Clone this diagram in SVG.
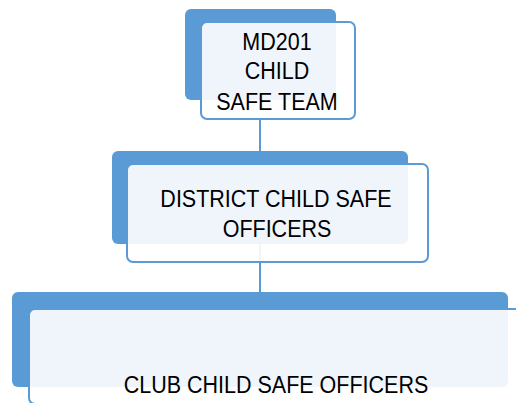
<svg xmlns="http://www.w3.org/2000/svg" width="516" height="403" viewBox="0 0 516 403">
<style>
.back{fill:#5B9BD5;}
.front{fill:#FFFFFF;fill-opacity:0.9;stroke:#5B9BD5;stroke-width:2;}
.conn{stroke:#5B9BD5;stroke-width:2;fill:none;}
text{font-family:"Liberation Sans",Arial,sans-serif;font-size:21.5px;fill:#000;text-anchor:middle;}
</style>
<rect width="516" height="403" fill="#FFFFFF"/>
<g id="connectors">
<line class="conn" x1="260" y1="119" x2="260" y2="151"/>
<line class="conn" x1="260" y1="244" x2="260" y2="292"/>
</g>
<g id="node-md201">
<rect class="back" x="185" y="9" width="151" height="91" rx="6"/>
<rect class="front" x="201" y="22" width="154" height="97" rx="6"/>
<text transform="translate(277,50) scale(1,1.1)">MD201</text>
<text transform="translate(277,79) scale(1,1.1)">CHILD</text>
<text transform="translate(277,110) scale(1,1.1)">SAFE TEAM</text>
</g>
<g id="node-district">
<rect class="back" x="112" y="151" width="296" height="93" rx="6"/>
<rect class="front" x="127" y="164" width="301" height="98" rx="6"/>
<text transform="translate(276,207) scale(1,1.1)">DISTRICT CHILD SAFE</text>
<text transform="translate(277,237) scale(1,1.1)">OFFICERS</text>
</g>
<g id="node-club">
<rect class="back" x="12" y="292" width="496" height="95" rx="6"/>
<rect class="front" x="29" y="309" width="500" height="95" rx="6"/>
<text transform="translate(276,393) scale(1,1.1)">CLUB CHILD SAFE OFFICERS</text>
</g>
</svg>
